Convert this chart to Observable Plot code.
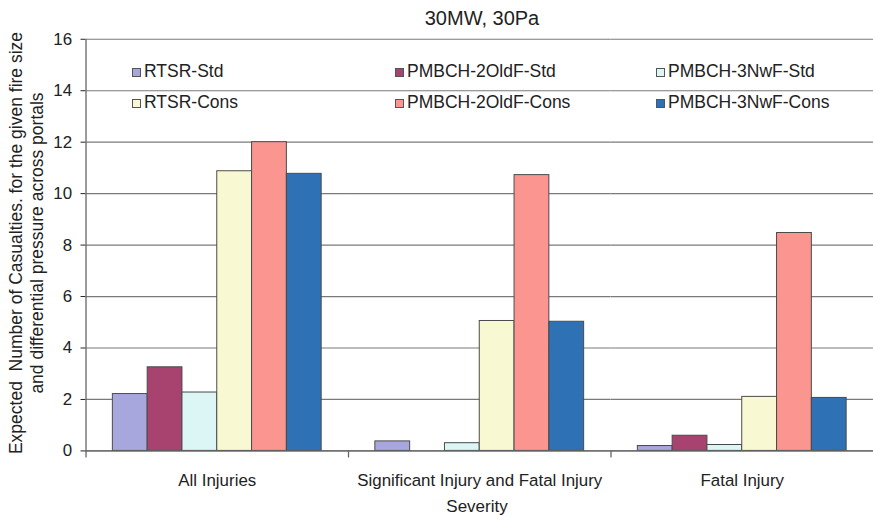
<!DOCTYPE html>
<html>
<head>
<meta charset="utf-8">
<script src="https://cdn.jsdelivr.net/npm/d3@7"></script>
<script src="https://cdn.jsdelivr.net/npm/@observablehq/plot@0.6"></script>
<style>
  html, body { margin: 0; padding: 0; background: #fff; overflow: hidden; }
  #wrap { position: relative; width: 873px; height: 517px; overflow: hidden; font-family: "Liberation Sans", Arial, sans-serif; color: #222; }
  #chart { position: absolute; left: 0; top: 0; }
  #chart svg text { font-size: 17px; fill: #222; }
  .abs { position: absolute; white-space: pre; font-size: 17px; line-height: 1; }
  .sw { position: absolute; width: 7px; height: 7px; border: 1px solid #555; }
</style>
</head>
<body>
<div id="wrap">
  <div id="chart"></div>
  <div id="overlay"></div>
</div>
<script>
const groups = ["All Injuries", "Significant Injury and Fatal Injury", "Fatal Injury"];
const series = ["RTSR-Std", "PMBCH-2OldF-Std", "PMBCH-3NwF-Std", "RTSR-Cons", "PMBCH-2OldF-Cons", "PMBCH-3NwF-Cons"];
const colors = ["#a7a7dd", "#a8426f", "#dcf5f5", "#f8f8d2", "#fa968f", "#2e71b4"];
const rtsrStd       = [2.21, 0.37, 0.19];
const pmbch2OldStd  = [3.25, 0.0, 0.59];
const pmbch3NwStd   = [2.27, 0.30, 0.23];
const rtsrCons      = [10.87, 5.05, 2.10];
const pmbch2OldCons = [12.0, 10.72, 8.47];
const pmbch3NwCons  = [10.77, 5.02, 2.06];
const yTicks = [0, 2, 4, 6, 8, 10, 12, 14, 16];
const title = "30MW, 30Pa";
const xTitle = "Severity";
const yTitle1 = "Expected  Number of Casualties. for the given fire size";
const yTitle2 = "and differential pressure across portals";

const seriesValues = [rtsrStd, pmbch2OldStd, pmbch3NwStd, rtsrCons, pmbch2OldCons, pmbch3NwCons];
const data = [];
groups.forEach((g, gi) => series.forEach((s, si) => data.push({group: g, series: s, value: seriesValues[si][gi]})));

const W = 878, H = 517, mT = 39, mB = 64, mL = 86, mR = 0;
const plotH = H - mT - mB;

const chart = Plot.plot({
  width: W, height: H,
  marginTop: mT, marginBottom: mB, marginLeft: mL, marginRight: mR,
  style: {fontFamily: "Liberation Sans, Arial, sans-serif", fontSize: "17px", color: "#222", background: "transparent"},
  fx: {domain: groups, padding: 0, axis: "bottom", tickSize: 0, tickPadding: 23, label: null},
  x: {domain: series, paddingInner: 0, paddingOuter: 0.75, align: 0.5, axis: null},
  y: {domain: [0, 16], ticks: yTicks, tickSize: 5, tickPadding: 9, label: null, tickFormat: d => d},
  color: {domain: series, range: colors},
  marks: [
    Plot.ruleY(yTicks, {stroke: "#7a7a7a", strokeWidth: 1.2}),
    Plot.barY(data, {fx: "group", x: "series", y: "value", fill: "series", stroke: "#4a4a4a", strokeWidth: 1}),
    Plot.vector([groups[0]], {fx: d => d, frameAnchor: "bottom-left", length: plotH, rotate: 0, anchor: "start", r: 0, stroke: "#666", strokeWidth: 1.3}),
    Plot.vector(groups, {fx: d => d, frameAnchor: "bottom-left", length: 6, rotate: 180, anchor: "start", r: 0, stroke: "#666", strokeWidth: 1.3}),
    Plot.ruleY([0], {stroke: "#666", strokeWidth: 1.3})
  ]
});
document.getElementById("chart").appendChild(chart);

const ov = document.getElementById("overlay");
function addText(txt, css) {
  const d = document.createElement("div");
  d.className = "abs";
  d.textContent = txt;
  Object.assign(d.style, css);
  ov.appendChild(d);
  return d;
}
addText(title, {left: "482px", top: "8px", fontSize: "20px", transform: "translateX(-50%)"});
addText(xTitle, {left: "477px", top: "498px", transform: "translateX(-50%)"});
addText(yTitle1, {left: "17px", top: "243px", fontSize: "17.5px", transform: "translate(-50%,-50%) rotate(-90deg)"});
addText(yTitle2, {left: "38px", top: "243px", fontSize: "17.5px", transform: "translate(-50%,-50%) rotate(-90deg)"});

// legend (3 columns x 2 rows)
const legCols = [132, 395, 656];
const legRows = [72, 103];
series.forEach((s, i) => {
  const col = i % 3, row = Math.floor(i / 3);
  const sw = document.createElement("div");
  sw.className = "sw";
  Object.assign(sw.style, {left: legCols[col] + "px", top: (legRows[row] - 4) + "px", background: colors[i]});
  ov.appendChild(sw);
  addText(s, {left: (legCols[col] + 12) + "px", top: (legRows[row] - 9) + "px", fontSize: "17.5px"});
});
</script>
</body>
</html>
